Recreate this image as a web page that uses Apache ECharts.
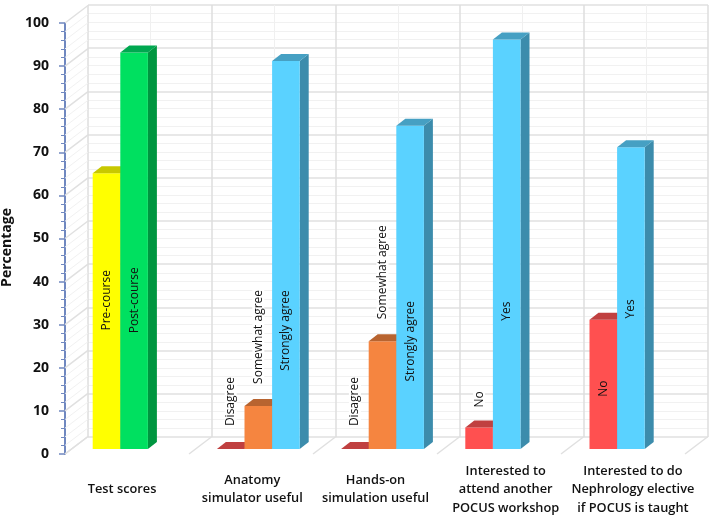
<!DOCTYPE html>
<html>
<head>
<meta charset="utf-8">
<style>html,body{margin:0;padding:0;background:#fff}#c{width:714px;height:518px}</style>
<script src="https://cdn.jsdelivr.net/npm/echarts@6/dist/echarts.min.js"></script>
</head>
<body>
<div id="c"></div>
<script>
const categories = ['Test scores', 'Anatomy\nsimulator useful', 'Hands-on\nsimulation useful', 'Interested to\nattend another\nPOCUS workshop', 'Interested to do\nNephrology elective\nif POCUS is taught'];
const preCourse = [[0, 64]];
const postCourse = [[0, 92]];
const disagree = [[1, 0], [2, 0]];
const somewhatAgree = [[1, 10], [2, 25]];
const stronglyAgree = [[1, 90], [2, 75]];
const no = [[3, 5], [4, 30]];
const yes = [[3, 95], [4, 70]];
const ticks = [0,2,4,6,8,10,12,14,16,18,20,22,24,26,28,30,32,34,36,38,40,42,44,46,48,50,52,54,56,58,60,62,64,66,68,70,72,74,76,78,80,82,84,86,88,90,92,94,96,98,100];
const floorLines = [0, 1, 2, 3, 4, 5];

// colour, side, top
const palette = {
  yellow: ['#FFFF00', '#C8C800', '#C8C800'],
  green: ['#00E060', '#009640', '#00A850'],
  red: ['#FF5050', '#A83838', '#C04040'],
  orange: ['#F58540', '#B06030', '#B86430'],
  blue: ['#5AD2FF', '#3C8CAC', '#46A0C3']
};
const labelNudge = [-12, -6, -7, -1, 2];
const DEPTH = [23, -17.5];
const BAR_DEPTH = [9, -7];
const FONT = '"Open Sans"';

function barSeries(name, data, slot, colours, labels, labelHeights, labelBox) {
  return {
    type: 'custom', name, xAxisIndex: 2, yAxisIndex: 2, z: 5 + slot,
    data,
    encode: { x: 0, y: 1 },
    renderItem(params, api) {
      const band = api.size([1, 0])[0];
      const w = band * 2 / 9;
      const c = api.coord([api.value(0), api.value(1)]);
      const base = api.coord([api.value(0), 0]);
      const x0 = c[0] - band / 3 + slot * w;
      const x1 = x0 + w, yt = c[1], yb = base[1];
      const [dx, dy] = BAR_DEPTH;
      const children = [];
      const poly = (points, fill) => children.push({ type: 'polygon', shape: { points }, style: { fill } });
      if (yb - yt > 0.5) {
        poly([[x1, yt], [x1 + dx, yt + dy], [x1 + dx, yb + dy], [x1, yb]], colours[1]);
        poly([[x0, yt], [x1, yt], [x1, yb], [x0, yb]], colours[0]);
      }
      poly([[x0, yt], [x0 + dx, yt + dy], [x1 + dx, yt + dy], [x1, yt]], colours[2]);
      const ly = api.coord([api.value(0), labelHeights[params.dataIndex]])[1];
      children.push({
        type: 'text', x: x0 + w / 2, y: ly, rotation: Math.PI / 2, z2: 20,
        style: {
          text: labels[params.dataIndex], fill: '#111', align: 'center', verticalAlign: 'middle',
          fontFamily: FONT, fontSize: 12,
          backgroundColor: labelBox && labelBox[params.dataIndex] ? '#fff' : null
        }
      });
      return { type: 'group', children };
    }
  };
}

const chart = echarts.init(document.getElementById('c'), null, { renderer: 'canvas' });
const hidden = { show: false };
chart.setOption({
  animation: false,
  backgroundColor: '#fff',
  grid: [
    { left: 88, width: 620, top: 5, height: 432, outerBoundsMode: 'none' },
    { left: 65, width: 620, top: 23, height: 431, outerBoundsMode: 'none' },
    { left: 72, width: 621, top: 18, height: 431, outerBoundsMode: 'none' }
  ],
  xAxis: [
    { gridIndex: 0, type: 'value', min: 0, max: 5, interval: 1, axisLine: hidden, axisTick: hidden, axisLabel: hidden,
      splitLine: { show: true, lineStyle: { color: '#dedede', width: 1.5 } },
      minorSplitLine: { show: true, lineStyle: { color: '#f0f0f0' } }, minorTick: { show: false, splitNumber: 2 } },
    { gridIndex: 1, type: 'value', min: 0, max: 5, interval: 1, axisLine: hidden, axisTick: hidden, axisLabel: hidden, splitLine: hidden },
    { gridIndex: 2, type: 'category', data: categories, axisLine: hidden, axisTick: hidden, splitLine: hidden,
      axisLabel: {
        interval: 0, margin: 40.5, verticalAlign: 'middle', hideOverlap: false,
        formatter(v, i) { return v.split('\n').map(s => `{k${i}|${s}}`).join('\n'); },
        rich: Object.fromEntries(labelNudge.map((n, i) => [`k${i}`, {
          fontFamily: FONT, fontSize: 12.8, fontWeight: 600, color: '#111', lineHeight: 18.5,
          padding: [0, n < 0 ? -2 * n : 0, 0, n > 0 ? 2 * n : 0]
        }]))
      } }
  ],
  yAxis: [
    { gridIndex: 0, type: 'value', min: 0, max: 100, interval: 10, axisLine: hidden, axisTick: hidden, axisLabel: hidden,
      splitLine: { show: true, lineStyle: { color: '#e0e0e0', width: 1.5 } },
      minorSplitLine: { show: true, lineStyle: { color: '#f1f1f1' } }, minorTick: { show: false, splitNumber: 5 } },
    { gridIndex: 1, type: 'value', min: 0, max: 100, interval: 10,
      name: 'Percentage', nameLocation: 'middle', nameGap: 48, nameRotate: 90,
      nameTextStyle: { fontFamily: FONT, fontSize: 14, fontWeight: 700, color: '#111', padding: [0, 18, 0, 0] },
      axisLine: { show: true, lineStyle: { color: '#7088c0', width: 2 } },
      axisTick: { show: true, inside: false, length: 6, lineStyle: { color: '#7088c0', width: 1.5 } },
      minorTick: { show: true, splitNumber: 5, length: 4, lineStyle: { color: '#7088c0', width: 1 } },
      splitLine: hidden,
      axisLabel: { margin: 16, fontFamily: FONT, fontSize: 14, fontWeight: 700, color: '#111' } },
    { gridIndex: 2, type: 'value', min: 0, max: 100, axisLine: hidden, axisTick: hidden, axisLabel: hidden, splitLine: hidden }
  ],
  series: [
    {
      type: 'custom', name: 'side wall', xAxisIndex: 1, yAxisIndex: 1, z: 1, silent: true,
      data: ticks.map(t => [0, t]), encode: { x: 0, y: 1 },
      renderItem(p, api) {
        const c = api.coord([0, api.value(1)]);
        const major = api.value(1) % 10 === 0;
        return { type: 'line', shape: { x1: c[0], y1: c[1], x2: c[0] + DEPTH[0], y2: c[1] + DEPTH[1] },
          style: { stroke: major ? '#e0e0e0' : '#f1f1f1', lineWidth: major ? 1.5 : 1 } };
      }
    },
    {
      type: 'custom', name: 'floor', xAxisIndex: 1, yAxisIndex: 1, z: 1, silent: true,
      data: floorLines.map(f => [f, 0]), encode: { x: 0, y: 1 },
      renderItem(p, api) {
        const c = api.coord([api.value(0), 0]);
        return { type: 'line', shape: { x1: c[0], y1: c[1], x2: c[0] + DEPTH[0], y2: c[1] + DEPTH[1] },
          style: { stroke: '#e0e0e0', lineWidth: 1.5 } };
      }
    },
    barSeries('Pre-course', preCourse, 0, palette.yellow, ['Pre-course'], [34.5]),
    barSeries('Post-course', postCourse, 1, palette.green, ['Post-course'], [34.5]),
    barSeries('Disagree', disagree, 0, palette.red, ['Disagree', 'Disagree'], [11, 11], [1, 1]),
    barSeries('Somewhat agree', somewhatAgree, 1, palette.orange, ['Somewhat agree', 'Somewhat agree'], [26, 41], [1, 1]),
    barSeries('Strongly agree', stronglyAgree, 2, palette.blue, ['Strongly agree', 'Strongly agree'], [27.5, 25]),
    barSeries('No', no, 0, palette.red, ['No', 'No'], [11.5, 14], [1, 0]),
    barSeries('Yes', yes, 1, palette.blue, ['Yes', 'Yes'], [32, 32.5])
  ]
});
</script>
</body>
</html>
